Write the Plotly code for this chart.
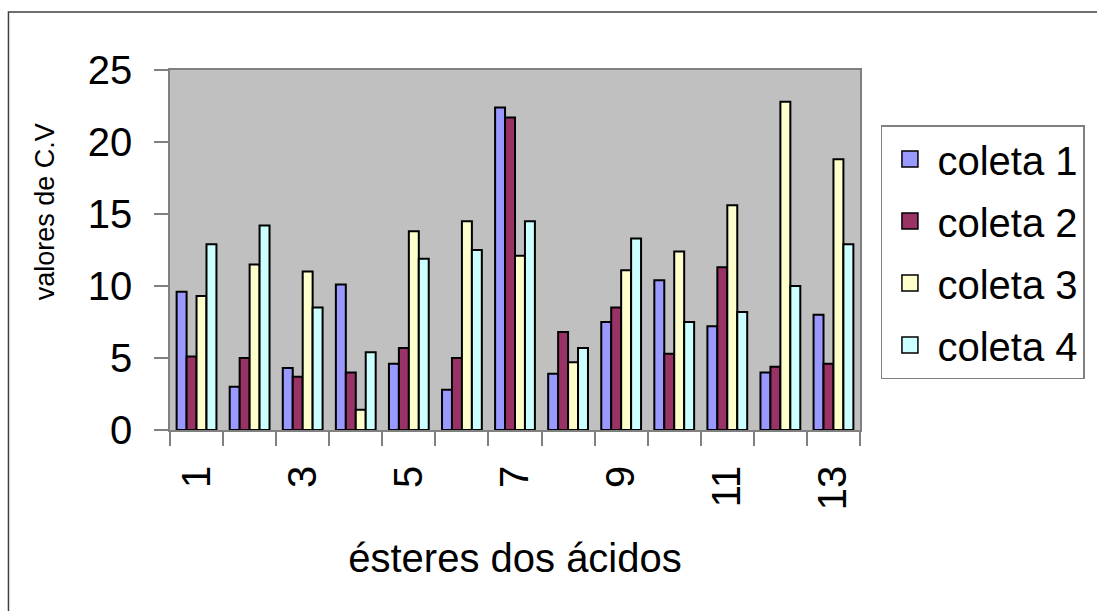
import plotly.graph_objects as go

# ---- data ----
categories = [str(i) for i in range(1, 14)]
tick_labels = [c if int(c) % 2 == 1 else "" for c in categories]
series_names = ["coleta 1", "coleta 2", "coleta 3", "coleta 4"]
coleta1 = [9.6, 3.0, 4.3, 10.1, 4.6, 2.8, 22.4, 3.9, 7.5, 10.4, 7.2, 4.0, 8.0]
coleta2 = [5.1, 5.0, 3.7, 4.0, 5.7, 5.0, 21.7, 6.8, 8.5, 5.3, 11.3, 4.4, 4.6]
coleta3 = [9.3, 11.5, 11.0, 1.4, 13.8, 14.5, 12.1, 4.7, 11.1, 12.4, 15.6, 22.8, 18.8]
coleta4 = [12.9, 14.2, 8.5, 5.4, 11.9, 12.5, 14.5, 5.7, 13.3, 7.5, 8.2, 10.0, 12.9]
series_values = [coleta1, coleta2, coleta3, coleta4]
colors = ["#9999FF", "#993366", "#FFFFCC", "#CCFFFF"]

FONT = "Liberation Sans, Arial, sans-serif"
W, H = 1097, 611
ML, MR, MT, MB = 170, 235, 70, 181

fig = go.Figure()
for name, vals, col in zip(series_names, series_values, colors):
    fig.add_trace(go.Bar(
        x=categories, y=vals, name=name, legendgroup=name,
        marker=dict(color=col, line=dict(color="black", width=2)),
        showlegend=False,
    ))
    # legend entry with a larger square swatch
    fig.add_trace(go.Scatter(
        x=[None], y=[None], mode="markers", name=name, legendgroup=name,
        marker=dict(symbol="square", size=16, color=col,
                    line=dict(color="black", width=1.5)),
        showlegend=True,
    ))

def px_to_paper_x(px):
    return (px - ML) / (W - ML - MR)

def px_to_paper_y(py):
    return (H - MB - py) / (H - MT - MB)

# outer chart frame
fig.add_shape(type="rect", xref="paper", yref="paper",
              x0=px_to_paper_x(8), x1=px_to_paper_x(1105),
              y0=px_to_paper_y(620), y1=px_to_paper_y(12),
              line=dict(color="#404040", width=1.5), fillcolor="rgba(0,0,0,0)",
              layer="below")

# y axis title
fig.add_annotation(text="valores de C.V", xref="paper", yref="paper",
                   x=px_to_paper_x(45), y=px_to_paper_y(212),
                   xanchor="center", yanchor="middle",
                   textangle=-90, showarrow=False,
                   font=dict(family=FONT, size=27, color="black"))

fig.update_layout(
    width=W, height=H,
    margin=dict(l=ML, r=MR, t=MT, b=MB, pad=0),
    paper_bgcolor="white", plot_bgcolor="#C0C0C0",
    barmode="group", bargap=0.25, bargroupgap=0,
    font=dict(family=FONT, color="black"),
    showlegend=True,
    legend=dict(
        x=px_to_paper_x(883), y=px_to_paper_y(125), xanchor="left", yanchor="top",
        bgcolor="white", bordercolor="#808080", borderwidth=1.5,
        font=dict(family=FONT, size=40, color="black"),
        traceorder="grouped", tracegroupgap=7, itemsizing="trace", itemwidth=45,
        entrywidth=240, entrywidthmode="pixels",
    ),
    xaxis=dict(
        type="category", tickmode="array", tickvals=categories, ticktext=tick_labels,
        tickson="boundaries", ticks="outside", ticklen=14, tickcolor="#808080", tickwidth=1.5,
        tickangle=-90, tickfont=dict(family=FONT, size=40, color="black"),
        ticklabelstandoff=18,
        showline=True, linecolor="#808080", linewidth=1.5, mirror=True,
        showgrid=False, zeroline=False,
        title=dict(text="ésteres dos ácidos", font=dict(family=FONT, size=40, color="black"),
                   standoff=35),
    ),
    yaxis=dict(
        range=[0, 25], tickmode="linear", tick0=0, dtick=5,
        ticks="outside", ticklen=14, tickcolor="#808080", tickwidth=1.5,
        tickfont=dict(family=FONT, size=40, color="black"),
        ticklabelstandoff=14,
        showline=True, linecolor="#808080", linewidth=1.5, mirror=True,
        showgrid=False, zeroline=False,
    ),
)

fig.write_html("out.html")
